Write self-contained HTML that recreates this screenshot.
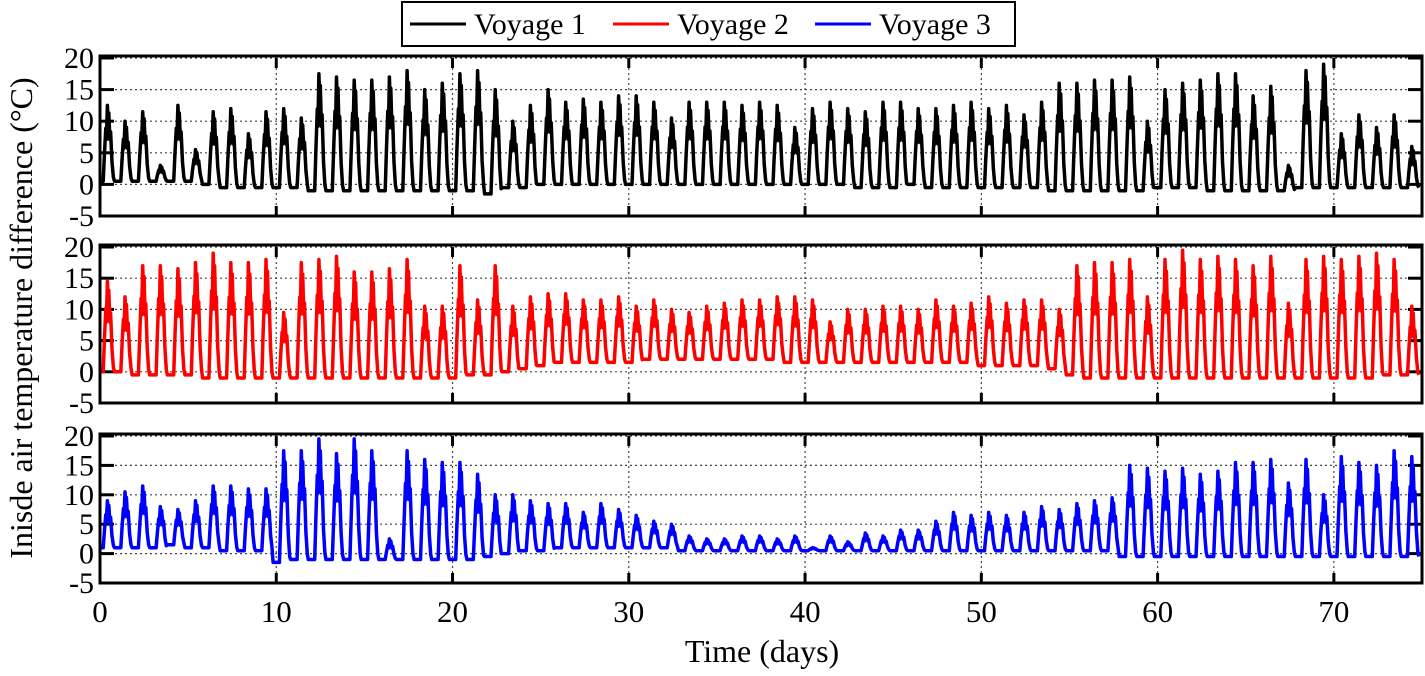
<!DOCTYPE html>
<html><head><meta charset="utf-8"><style>
body{margin:0;background:#fff;width:1425px;height:671px;overflow:hidden}
svg text{font-family:"Liberation Serif",serif;fill:#000}
</style></head><body>
<svg id="chart" width="1425" height="671" xmlns="http://www.w3.org/2000/svg"></svg>
<script>
const dayTicks=[0,10,20,30,40,50,60,70];
const yTicks=[20,15,10,5,0,-5];
const seriesNames=["Voyage 1","Voyage 2","Voyage 3"];
const peaks1=[12.5,10,11.5,3,12.5,5.5,11.5,12,8,11.5,12,10.5,17.5,17,16.5,16.5,17,18,15,16,17.5,18,15,10,12.5,15,13,13.5,13,14,14,13,10.5,13,13,13,12.5,13,12.5,9,12,13,12,11.5,13,13,12,12,12.5,13,12,12.5,11,13,16,16,16.5,16.5,17,10,15,16,16.5,17.5,17.5,14,15.5,3,18,19,8,11,9,11,6];
const base1=[0.5,0.5,0.5,0.5,0.5,0.5,0,-0.5,-0.5,-0.5,-0.5,-0.5,-1,-1,-1,-1,-1,-1,-1,-1,-1,-1,-1.5,-0.5,-0.5,0,0,0,0,0,0,0,0,0,0,0,0,0,0,0,0,0,0,-0.5,-0.5,-0.5,0,-0.5,-0.5,-0.5,-0.5,-0.5,-0.5,-0.5,-1,-1,-1,-1,-1,-1,-0.5,-0.5,-0.5,-1,-1,-1,-1,-1,-0.5,-0.5,-0.5,-0.5,-0.5,-0.5,-0.5];
const peaks2=[14.5,12,17,17,16.5,17.5,19,17.5,17.5,18,9.5,17.5,18,18.5,16,16,16.5,18,10.5,10.5,17,11.5,17,10.5,12,12.5,12.5,11.5,11.5,12,10.5,11.5,10,9.5,10.5,11,11.5,11.5,12,12,11.5,8,10,10,10.5,10.5,10,11.5,10.5,11,12,11,11.5,11.5,10,17,17.5,17.5,18,12,18,19.5,18,18.5,18,17,18.5,11,18,18.5,18,18.5,19,18,10.5];
const base2=[0,0,-0.5,-0.5,-0.5,-0.5,-1,-1,-1,-1,-1,-1,-1,-1,-1,-1,-1,-1,-1,-1,-1,-0.5,-0.5,0,0.5,1,1.5,1.5,1.5,1.5,1.5,2,2,2,2,2,2,2,2,1.5,1.5,1.5,1.5,1.5,1.5,1.5,1.5,1.5,1.5,1.5,1,1,1,1,0.5,-0.5,-1,-1,-1,-1,-1,-1,-1,-1,-1,-1,-1,-1,-1,-1,-1,-1,-1,-0.5,-0.5];
const peaks3=[9,10.5,11.5,8,7.5,9,11.5,11.5,11,11,17.5,17.5,19.5,17,19.5,17.5,2.5,17.5,16,15.5,15.5,13.5,10,10,9,8.5,8.5,7,8.5,7.5,6.5,5.5,5,3,2.5,2.5,3,3,2.5,3,1,3,2,3.5,3,4,4,5.5,7,6.5,7,6.5,7,8,7.5,8.5,9,9.5,15,14.5,14,14.5,13.5,14,15.5,15.5,16,12,16,10,16.5,15.5,15,17.5,16.5];
const base3=[1,1,1,1,1.5,1,1,0.5,0.5,0.5,-1.5,-1,-1,-1,-1,-1,-1,-1,-1,-1,-1,-1,-0.5,0,0.5,0.5,1,1,1,1,1,1,1,0.5,0.5,0.5,0.5,0.5,0.5,0.5,0.5,0.5,0.5,0.5,0.5,0.5,0.5,0.5,0.5,0.5,0.5,0.5,0.5,0.5,0.5,0.5,0.5,0.5,-0.5,-0.5,-0.5,-0.5,-0.5,-0.5,-0.5,-0.5,-0.5,-0.5,-0.5,-0.5,-0.5,-0.5,-0.5,-0.5,-0.5];

const NS="http://www.w3.org/2000/svg";
const svg=document.getElementById('chart');
function mk(tag,attrs,parent){const e=document.createElementNS(NS,tag);for(const k in attrs)e.setAttribute(k,attrs[k]);(parent||svg).appendChild(e);return e;}
const X0=100,X1=1422,XMAX=75;
const xs=d=>X0+(X1-X0)*d/XMAX;
const panels=[{top:58,bot:216,p:peaks1,b:base1,c:"#000"},{top:247,bot:403,p:peaks2,b:base2,c:"#f00"},{top:436,bot:583,p:peaks3,b:base3,c:"#00f"}];
panels.forEach((P,i)=>{
  const ys=v=>P.bot-(v+5)/25*(P.bot-P.top);
  const g=mk('g',{});
  
  
  yTicks.forEach(t=>{
    const gl=mk('line',{x1:X0,x2:X1,y1:ys(t),y2:ys(t),stroke:'#444','stroke-width':1.2,'stroke-dasharray':'2,3'},g);
    
    
    const tk=mk('line',{x1:X0,x2:X0+14,y1:ys(t),y2:ys(t),stroke:'#000','stroke-width':3},g);
    
    
    const tk2=mk('line',{x1:X1-14,x2:X1,y1:ys(t),y2:ys(t),stroke:'#000','stroke-width':3},g);
    
    
    const tl=mk('text',{x:X0-6,y:ys(t)+10,'text-anchor':'end','font-size':30},g);
    tl.textContent=t;
    
    
  });
  dayTicks.forEach(d=>{
    if(d===0)return;
    const gl=mk('line',{x1:xs(d),x2:xs(d),y1:P.top,y2:P.bot,stroke:'#444','stroke-width':1.2,'stroke-dasharray':'2,3'},g);
    
    
    const t1=mk('line',{x1:xs(d),x2:xs(d),y1:P.top,y2:P.top+10,stroke:'#000','stroke-width':3},g);
    
    
    const t2=mk('line',{x1:xs(d),x2:xs(d),y1:P.bot-10,y2:P.bot,stroke:'#000','stroke-width':3},g);
    
    
  });
  let pts=[];
  P.p.forEach((pk,d)=>{
    const b=P.b[d];
    const nb=d+1<P.b.length?P.b[d+1]:b;
    const h=pk-b;
    pts.push([d,b],[d+0.18,b],[d+0.25,b+h*0.35],[d+0.33,b+h*0.7],[d+0.36,b+h*0.55],[d+0.42,pk],[d+0.47,b+h*0.75],[d+0.5,b+h*0.9],[d+0.56,b+h*0.55],[d+0.6,b+h*0.65],[d+0.68,b+h*0.25],[d+0.76,b+h*0.05],[d+0.82,nb]);
  });
  pts=pts.filter(q=>q[0]<=XMAX);
  const line=mk('polyline',{points:pts.map(q=>xs(q[0]).toFixed(1)+','+ys(q[1]).toFixed(1)).join(' '),fill:'none',stroke:P.c,'stroke-width':3.5,'stroke-linejoin':'round'},g);
  
  
  const fr=mk('rect',{x:X0,y:P.top-2,width:X1-X0,height:P.bot-P.top+2,fill:'none',stroke:'#000','stroke-width':3},g);
  
  
});
dayTicks.forEach(d=>{
  const t=mk('text',{x:xs(d),y:622,'text-anchor':'middle','font-size':31});
  t.textContent=d;
  
  
});
const xt=mk('text',{x:762,y:662,'text-anchor':'middle','font-size':32});
xt.textContent='Time (days)';


const yt=mk('text',{x:0,y:0,'text-anchor':'middle','font-size':32,transform:'translate(32,318) rotate(-90)'});
yt.textContent='Inisde air temperature difference (\u00B0C)';


const lg=mk('g',{});


const lb=mk('rect',{x:402,y:2,width:613,height:44,fill:'#fff',stroke:'#000','stroke-width':2},lg);


const lx=[410,613,815],cols=["#000","#f00","#00f"];
seriesNames.forEach((n,i)=>{
  const l=mk('line',{x1:lx[i],x2:lx[i]+56,y1:24,y2:24,stroke:cols[i],'stroke-width':3},lg);
  
  
  const t=mk('text',{x:lx[i]+64,y:34,'font-size':30},lg);
  t.textContent=n;
  
  
});
</script>
</body></html>
